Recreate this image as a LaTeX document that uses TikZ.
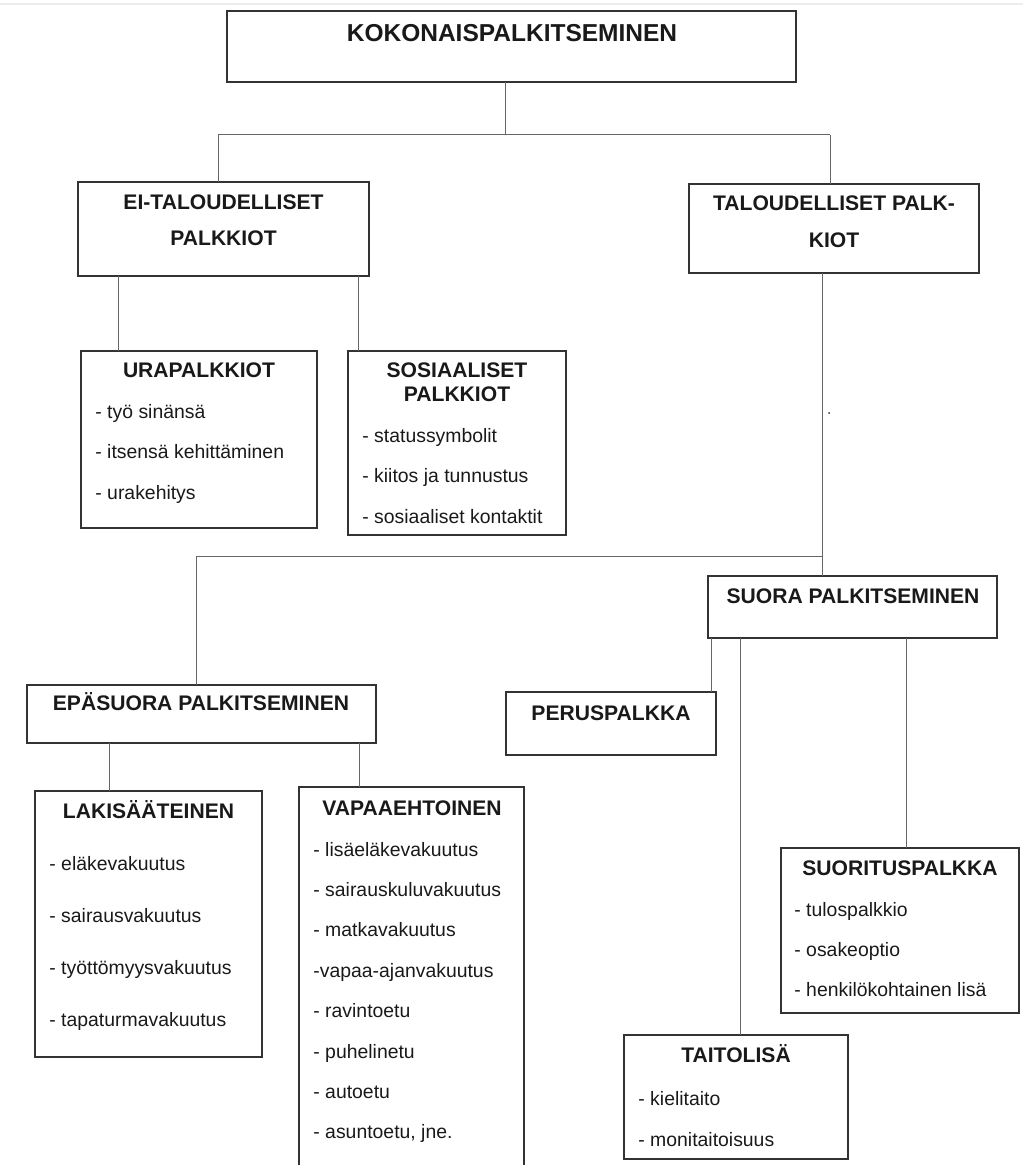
\documentclass[tikz,border=0pt]{standalone}
\usepackage{fontspec}
\setmainfont{Liberation Sans}
\begin{document}
\begin{tikzpicture}[x=0.5pt, y=-0.5pt,
	box/.style={draw=black!80, line width=0.7pt, anchor=north west, inner sep=0pt, outer sep=0pt},
	title/.style={anchor=base, inner sep=0pt, text=black!90, font=\fontsize{10.55}{12}\selectfont\bfseries},
	item/.style={anchor=base west, inner sep=0pt, text=black!90, font=\fontsize{9.7}{11}\selectfont},
	link/.style={draw=black!60, line width=0.5pt}]
		\useasboundingbox (0,0) rectangle (1023,1165);
		\draw[black!7, line width=0.8pt] (0,4) -- (1023,4);
		% boxes
		\node (koko)  at (227,11)  [box, minimum width=284.5pt, minimum height=35.5pt] {};
		\node (ei)    at (78,182)  [box, minimum width=145.5pt, minimum height=47pt] {};
		\node (tal)   at (689,184) [box, minimum width=145pt, minimum height=44.5pt] {};
		\node (ura)   at (81,351)  [box, minimum width=118pt, minimum height=88.5pt] {};
		\node (sos)   at (348,351) [box, minimum width=109pt, minimum height=92pt] {};
		\node (suora) at (708,576) [box, minimum width=144.5pt, minimum height=31pt] {};
		\node (epa)   at (27,685)  [box, minimum width=174.5pt, minimum height=29pt] {};
		\node (perus) at (506,692) [box, minimum width=105pt, minimum height=31.5pt] {};
		\node (laki)  at (35,791)  [box, minimum width=113.5pt, minimum height=133pt] {};
		\node (vapaa) at (299,787) [box, minimum width=112.5pt, minimum height=200pt] {};
		\node (suor)  at (781,848) [box, minimum width=119pt, minimum height=82.5pt] {};
		\node (taito) at (624,1035) [box, minimum width=112pt, minimum height=62pt] {};
		% titles
		\node (koko-t)  at (512,41.5) [title, font=\fontsize{12.25}{14}\selectfont\bfseries] {KOKONAISPALKITSEMINEN};
		\node (ei-t1)   at (223.5,210) [title] {EI-TALOUDELLISET};
		\node (ei-t2)   at (223.5,245.5) [title] {PALKKIOT};
		\node (tal-t1)  at (834,211) [title] {TALOUDELLISET PALK-};
		\node (tal-t2)  at (834,247.5) [title] {KIOT};
		\node (ura-t)   at (199,377.5) [title] {URAPALKKIOT};
		\node (sos-t1)  at (457,377.5) [title] {SOSIAALISET};
		\node (sos-t2)  at (457,401.5) [title] {PALKKIOT};
		\node (suora-t) at (853,603) [title] {SUORA PALKITSEMINEN};
		\node (epa-t)   at (201,710.5) [title] {EPÄSUORA PALKITSEMINEN};
		\node (perus-t) at (611,720) [title] {PERUSPALKKA};
		\node (laki-t)  at (148.5,818) [title] {LAKISÄÄTEINEN};
		\node (vapaa-t) at (412,815) [title] {VAPAAEHTOINEN};
		\node (suor-t)  at (900,875.5) [title] {SUORITUSPALKKA};
		\node (taito-t) at (736,1062) [title] {TAITOLISÄ};
		% items
		\foreach \t [count=\i] in {- työ sinänsä, - itsensä kehittäminen, - urakehitys}
			\node (ura-\i) at (95,{418+40.5*(\i-1)}) [item] {\t};
		\foreach \t [count=\i] in {- statussymbolit, - kiitos ja tunnustus, - sosiaaliset kontaktit}
			\node (sos-\i) at (362,{442+40.5*(\i-1)}) [item] {\t};
		\foreach \t [count=\i] in {- eläkevakuutus, - sairausvakuutus, - työttömyysvakuutus, - tapaturmavakuutus}
			\node (laki-\i) at (49,{870+52*(\i-1)}) [item] {\t};
		\foreach \t [count=\i] in {- lisäeläkevakuutus, - sairauskuluvakuutus, - matkavakuutus, -vapaa-ajanvakuutus,
				- ravintoetu, - puhelinetu, - autoetu, {- asuntoetu, jne.}}
			\node (vapaa-\i) at (313,{856+40.4*(\i-1)}) [item] {\t};
		\foreach \t [count=\i] in {- tulospalkkio, - osakeoptio, - henkilökohtainen lisä}
			\node (suor-\i) at (794,{916+40*(\i-1)}) [item] {\t};
		\foreach \t [count=\i] in {- kielitaito, - monitaitoisuus}
			\node (taito-\i) at (638,{1105+41*(\i-1)}) [item] {\t};
		% connectors
		\coordinate (jtop) at (505,135);
		\coordinate (jl) at (218,135);
		\coordinate (jr) at (830,135);
		\coordinate (jm) at (822,556);
		\coordinate (je) at (196,556);
		\draw[link] (koko.south -| jtop) -- (jtop);
		\draw[link] (jl) -- (jr);
		\draw[link] (jl) -- (jl |- ei.north);
		\draw[link] (jr) -- (jr |- tal.north);
		\draw[link] (118.5,0 |- ei.south) -- (118.5,0 |- ura.north);
		\draw[link] (358.5,0 |- ei.south) -- (358.5,0 |- sos.north);
		\draw[link] (jm |- tal.south) -- (jm |- suora.north);
		\draw[link] (je) -- (jm);
		\draw[link] (je) -- (je |- epa.north);
		\draw[link] (109,0 |- epa.south) -- (109,0 |- laki.north);
		\draw[link] (359,0 |- epa.south) -- (359,0 |- vapaa.north);
		\draw[link] (711,0 |- suora.south) -- (711,0 |- perus.north);
		\draw[link] (740,0 |- suora.south) -- (740,0 |- taito.north);
		\draw[link] (906,0 |- suora.south) -- (906,0 |- suor.north);
		\fill[black!80] (829,413) circle (0.5pt);
\end{tikzpicture}
\end{document}
